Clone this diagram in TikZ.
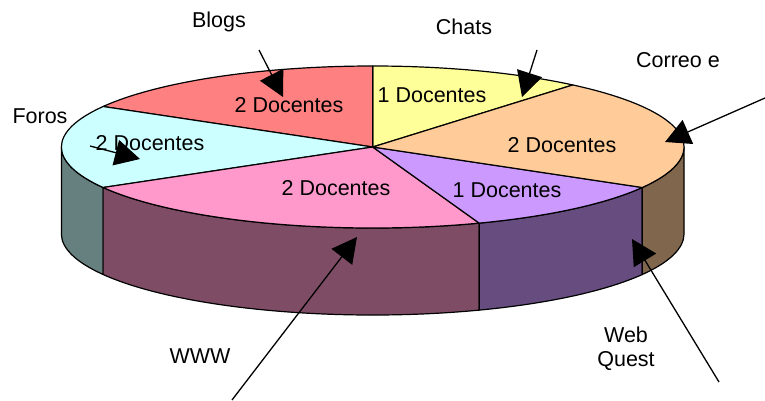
\documentclass[tikz,border=0pt]{standalone}
\usepackage{fontspec}
\setmainfont{Liberation Sans}
\usetikzlibrary{arrows.meta,calc}

\definecolor{blogsT}{HTML}{FF8080}
\definecolor{chatsT}{HTML}{FFFF99}
\definecolor{correoT}{HTML}{FFCC99}
\definecolor{webT}{HTML}{CC99FF}
\definecolor{wwwT}{HTML}{FF99CC}
\definecolor{forosT}{HTML}{CCFFFF}
\definecolor{correoS}{HTML}{7F664C}
\definecolor{webS}{HTML}{664C7F}
\definecolor{wwwS}{HTML}{7F4C66}
\definecolor{forosS}{HTML}{667F7F}

\begin{document}
\begin{tikzpicture}[x=1pt,y=1pt,
  txt/.style={anchor=base, inner sep=0pt, font=\fontsize{21.5}{25}\selectfont},
  callout/.style={-{Triangle[length=25pt,width=26pt]}, line width=1.3pt},
  rim/.style={draw=black, line width=1.2pt, line join=round}]
\useasboundingbox (0,0) rectangle (765,400);
\def\rx{311.3}
\def\ry{81}
\def\dz{87}
\coordinate (O) at (372.7,253);

% visible side walls of the 3D pie
\foreach \a/\b/\c in {180/210/forosS, 210/290/wwwS, 290/330/webS, 330/360/correoS}
  \filldraw[rim, fill=\c] ($(O)+(\a:\rx pt and \ry pt)$)
    arc[start angle=\a, end angle=\b, x radius=\rx pt, y radius=\ry pt]
    -- ++(0,-\dz)
    arc[start angle=\b, end angle=\a, x radius=\rx pt, y radius=\ry pt] -- cycle;

% top faces of the slices
\foreach \a/\b/\c in {50/90/chatsT, 90/150/blogsT, 150/210/forosT, 210/290/wwwT, 290/330/webT, 330/410/correoT}
  \filldraw[rim, fill=\c] (O) -- ($(O)+(\a:\rx pt and \ry pt)$)
    arc[start angle=\a, end angle=\b, x radius=\rx pt, y radius=\ry pt] -- cycle;

% slice values
\node[txt] (vBlogs)  at (289,288) {2 Docentes};
\node[txt] (vChats)  at (432,298) {1 Docentes};
\node[txt] (vCorreo) at (562,248) {2 Docentes};
\node[txt] (vWeb)    at (507,203) {1 Docentes};
\node[txt] (vWWW)    at (336,205) {2 Docentes};
\node[txt] (vForos)  at (150,250) {2 Docentes};

% category labels
\node[txt] (lBlogs)  at (219,372) {Blogs};
\node[txt] (lChats)  at (464,366) {Chats};
\node[txt] (lCorreo) at (678,333) {Correo e};
\node[txt] (lForos)  at (40,277)  {Foros};
\node[txt] (lWWW)    at (200,37)  {WWW};
\node[txt] (lWeb1)   at (626,58)  {Web};
\node[txt] (lWeb2)   at (626,34)  {Quest};

% callout arrows
\coordinate (aBlogs)  at (259,350); \coordinate (tBlogs)  at (283,303);
\coordinate (aChats)  at (537,350); \coordinate (tChats)  at (522,303);
\coordinate (aCorreo) at (765,302); \coordinate (tCorreo) at (665,258);
\coordinate (aForos)  at (90,254);  \coordinate (tForos)  at (140,241);
\coordinate (aWWW)    at (232,0);   \coordinate (tWWW)    at (357,163);
\coordinate (aWeb)    at (719,18);  \coordinate (tWeb)    at (632,161);
\draw[callout] (aBlogs) -- (tBlogs);
\draw[callout] (aChats) -- (tChats);
\draw[callout] (aCorreo) -- (tCorreo);
\draw[callout] (aForos) -- (tForos);
\draw[callout] (aWWW) -- (tWWW);
\draw[callout] (aWeb) -- (tWeb);
\end{tikzpicture}
\end{document}
